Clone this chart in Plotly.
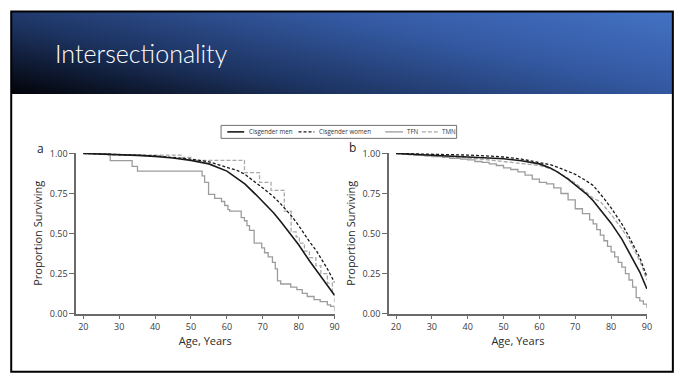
import base64
import plotly.graph_objects as go

W, H = 685, 379

# ---------------- data ----------------
age_smooth = [20, 25, 30, 35, 40, 45, 50, 55, 60, 63, 65, 68, 70, 73, 75, 78, 80, 83, 85, 88, 90]

a_cis_men = [1.0, 0.997, 0.993, 0.988, 0.982, 0.972, 0.957, 0.935, 0.89, 0.845, 0.81, 0.745,
             0.70, 0.63, 0.575, 0.49, 0.43, 0.33, 0.27, 0.175, 0.115]
a_cis_women = [1.0, 0.998, 0.995, 0.99, 0.985, 0.977, 0.965, 0.948, 0.915, 0.893, 0.87, 0.82,
               0.785, 0.73, 0.685, 0.61, 0.55, 0.45, 0.39, 0.28, 0.195]

a_tfn_age = [20, 27.5, 33.6, 35.1, 53.1, 53.8, 54.9, 56.6, 58.5, 59.4, 60.3, 60.8, 64, 64.9, 65.6,
             66.3, 67.6, 69.7, 70.5, 71.5, 72.7, 73.5, 74.1, 75, 77.8, 79.5, 81, 82.4, 84.3, 86,
             88, 88.9, 90]
a_tfn = [1.0, 0.955, 0.92, 0.89, 0.86, 0.82, 0.745, 0.72, 0.70, 0.675, 0.65, 0.64, 0.60, 0.58, 0.55,
         0.52, 0.44, 0.41, 0.38, 0.355, 0.32, 0.28, 0.205, 0.185, 0.165, 0.15, 0.127, 0.107, 0.087,
         0.075, 0.055, 0.045, 0.015]

a_tmn_age = [20, 27, 47.5, 50, 64.9, 69.1, 72.3, 76, 77.9, 79.3, 80.2, 81.6, 83, 84.8, 86.2, 88,
             89.4, 90]
a_tmn = [1.0, 0.99, 0.975, 0.957, 0.88, 0.82, 0.77, 0.64, 0.51, 0.48, 0.44, 0.39, 0.35, 0.30,
         0.25, 0.19, 0.125, 0.07]

b_cis_men = [1.0, 0.995, 0.99, 0.985, 0.98, 0.975, 0.967, 0.955, 0.935, 0.91, 0.885, 0.84,
             0.805, 0.75, 0.705, 0.625, 0.565, 0.465, 0.385, 0.26, 0.155]
b_cis_women = [1.0, 0.998, 0.997, 0.995, 0.99, 0.985, 0.978, 0.965, 0.945, 0.93, 0.915, 0.89,
               0.87, 0.83, 0.80, 0.72, 0.66, 0.56, 0.48, 0.35, 0.23]

b_tmn_age = [20, 25, 30, 35, 40, 45, 50, 55, 60, 63, 65, 68, 70, 73, 75, 77, 78, 80, 83, 85, 88, 90]
b_tmn = [1.0, 0.99, 0.985, 0.98, 0.972, 0.962, 0.95, 0.94, 0.925, 0.905, 0.885, 0.845, 0.815,
         0.76, 0.72, 0.70, 0.675, 0.62, 0.53, 0.46, 0.33, 0.21]

b_tfn_age = [20, 22, 25, 28, 30, 33, 35, 38, 40, 42, 44, 46, 48, 50, 52, 54, 56, 58, 60, 62, 64,
             66, 68, 70, 72, 74, 75, 76, 77, 78, 79, 80, 81, 82, 83, 84, 85, 86, 87, 88, 89, 90]
b_tfn = [1.0, 0.995, 0.988, 0.985, 0.98, 0.975, 0.97, 0.965, 0.96, 0.95, 0.945, 0.935, 0.925,
         0.91, 0.90, 0.885, 0.865, 0.84, 0.82, 0.81, 0.785, 0.75, 0.71, 0.655, 0.625, 0.585,
         0.56, 0.525, 0.49, 0.455, 0.42, 0.385, 0.355, 0.32, 0.29, 0.25, 0.21, 0.165, 0.10,
         0.08, 0.06, 0.035]

x_ticks = [20, 30, 40, 50, 60, 70, 80, 90]
y_ticks = [0, 0.25, 0.5, 0.75, 1.0]
y_ticktext = ["0.00", "0.25", "0.50", "0.75", "1.00"]

series_names = ["Cisgender men", "Cisgender women", "TFN", "TMN"]
slide_title = "Intersectionality"


def px(x):
    return x / W


def py(y):
    return 1 - y / H


FONT = "Open Sans"
BLACK = "#1a1a1a"
GRAY = "#9c9c9c"
GRAY2 = "#a8a8a8"
AX = "#6a6a6a"

styles = {
    "Cisgender men": dict(color=BLACK, width=1.6, dash="solid"),
    "Cisgender women": dict(color=BLACK, width=1.3, dash="3px,2px"),
    "TFN": dict(color=GRAY, width=1.3, dash="solid"),
    "TMN": dict(color=GRAY2, width=1.3, dash="4px,2px"),
}

fig = go.Figure()


def add(xs, ys, name, xa, ya, shape="linear"):
    fig.add_trace(go.Scatter(x=xs, y=ys, mode="lines", name=name, xaxis=xa, yaxis=ya,
                             line=dict(shape=shape, **styles[name]), showlegend=False,
                             hoverinfo="skip"))


# panel a (draw gray first so black on top)
add(a_tfn_age, a_tfn, "TFN", "x", "y", "hv")
add(a_tmn_age, a_tmn, "TMN", "x", "y", "hv")
add(age_smooth, a_cis_women, "Cisgender women", "x", "y")
add(age_smooth, a_cis_men, "Cisgender men", "x", "y")
# panel b
add(b_tfn_age, b_tfn, "TFN", "x2", "y2", "hv")
add(b_tmn_age, b_tmn, "TMN", "x2", "y2")
add(age_smooth, b_cis_women, "Cisgender women", "x2", "y2")
add(age_smooth, b_cis_men, "Cisgender men", "x2", "y2")

y_top = 151.8
y_bot = 317.7


def xax(d0, d1, anchor):
    return dict(domain=[px(d0), px(d1)], range=[18, 90], tickvals=x_ticks, ticks="outside",
                ticklen=4, tickwidth=1, tickcolor=AX, showline=True, linecolor=AX, linewidth=1.5,
                showgrid=False, zeroline=False, anchor=anchor,
                tickfont=dict(family=FONT, size=9, color="#3a3a3a"),
                title=dict(text="Age, Years", font=dict(family=FONT, size=11, color="#2a2a2a"),
                           standoff=3))


def yax(anchor):
    return dict(domain=[py(y_bot), py(y_top)], range=[0, 1.003], tickvals=y_ticks,
                ticktext=y_ticktext, ticks="outside", ticklen=5, tickwidth=1, tickcolor=AX,
                showline=True, linecolor=AX, linewidth=1.5, showgrid=False, zeroline=False,
                anchor=anchor, tickfont=dict(family=FONT, size=9, color="#3a3a3a"),
                title=dict(text="Proportion Surviving",
                           font=dict(family=FONT, size=11, color="#2a2a2a"), standoff=5))


# title bar gradient as an SVG image
gw, gh = 666, 85
svg = f'''<svg xmlns="http://www.w3.org/2000/svg" width="{gw}" height="{gh}" viewBox="0 0 {gw} {gh}" preserveAspectRatio="none">
<defs><linearGradient id="g" gradientUnits="userSpaceOnUse" x1="0" y1="{gh}" x2="50.7" y2="-146.7">
<stop offset="0" stop-color="#020308"/><stop offset="0.3" stop-color="#1d3462"/>
<stop offset="0.62" stop-color="#3459a2"/><stop offset="1" stop-color="#4676c9"/></linearGradient></defs>
<rect width="{gw}" height="{gh}" fill="url(#g)"/></svg>'''
src = "data:image/svg+xml;base64," + base64.b64encode(svg.encode()).decode()

shapes = []
annotations = []

# slide frame
shapes.append(dict(type="rect", xref="paper", yref="paper", x0=px(11.3), x1=px(677.8),
                   y0=py(377.7), y1=py(5.8), line=dict(color="#000000", width=2),
                   fillcolor="rgba(0,0,0,0)", layer="above"))

annotations.append(dict(text=slide_title, xref="paper", yref="paper", x=px(54), y=py(48.5),
                        xanchor="left", yanchor="middle", showarrow=False, borderpad=0,
                        font=dict(family="Lato", size=25, color="#ffffff", weight=300)))

# panel letters
annotations.append(dict(text="a", xref="paper", yref="paper", x=px(40.7), y=py(147),
                        xanchor="center", yanchor="middle", showarrow=False,
                        font=dict(family=FONT, size=12, color="#222222")))
annotations.append(dict(text="b", xref="paper", yref="paper", x=px(355), y=py(146.5),
                        xanchor="center", yanchor="middle", showarrow=False,
                        font=dict(family=FONT, size=12, color="#222222")))

# manual legend
shapes.append(dict(type="rect", xref="paper", yref="paper", x0=px(222.7), x1=px(460),
                   y0=py(136.7), y1=py(123.3), line=dict(color="#707070", width=1),
                   fillcolor="#ffffff"))
leg_lines = [(229, 246), (300.7, 316.7), (388, 406), (425, 441)]
leg_text_x = [249.5, 320.7, 408.5, 444]
for name, (l0, l1), tx in zip(series_names, leg_lines, leg_text_x):
    st = styles[name]
    shapes.append(dict(type="line", xref="paper", yref="paper", x0=px(l0), x1=px(l1),
                       y0=py(130), y1=py(130),
                       line=dict(color=st["color"], width=st["width"], dash=st["dash"])))
    annotations.append(dict(text=name, xref="paper", yref="paper", x=px(tx), y=py(130),
                            xanchor="left", yanchor="middle", showarrow=False, borderpad=0,
                            font=dict(family=FONT, size=6.2, color="#333333")))

fig.update_layout(
    width=W, height=H, margin=dict(l=0, r=0, t=0, b=0),
    paper_bgcolor="#ffffff", plot_bgcolor="#ffffff",
    xaxis=xax(76.7, 337, "y"), yaxis=yax("x"),
    xaxis2=xax(391.7, 651.7, "y2"), yaxis2=yax("x2"),
    images=[dict(source=src, xref="paper", yref="paper", x=px(11.3), y=py(5.8),
                 sizex=px(677.8) - px(11.3), sizey=py(5.8) - py(91), sizing="stretch",
                 xanchor="left", yanchor="top", layer="below")],
    shapes=shapes, annotations=annotations, showlegend=False,
)

fig.write_html("out.html")
